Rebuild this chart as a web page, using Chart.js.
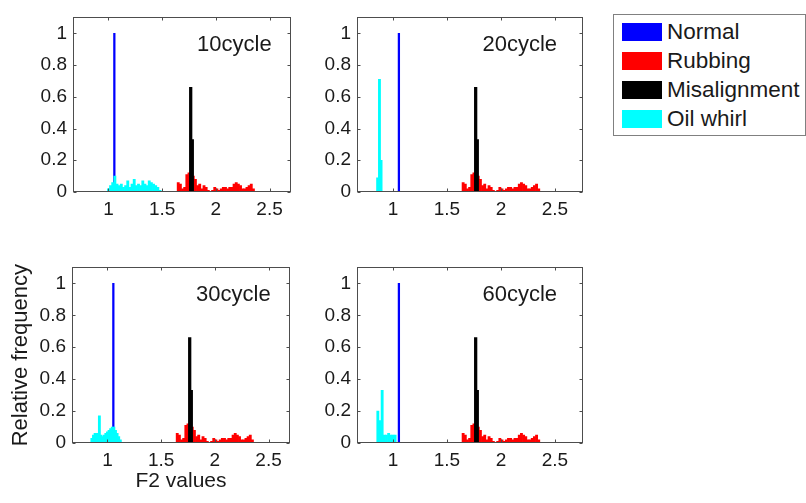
<!DOCTYPE html>
<html>
<head>
<meta charset="utf-8">
<script src="https://cdn.jsdelivr.net/npm/chart.js@4.4.0/dist/chart.umd.min.js"></script>
<style>
  body { margin: 0; background: #fff; width: 806px; height: 503px; position: relative; overflow: hidden;
         font-family: "Liberation Sans", Arial, sans-serif; color: #1a1a1a; }
  canvas { position: absolute; }
  #legend { position: absolute; left: 613px; top: 14px; width: 191px; height: 120px;
            border: 1px solid #808080; background: #fff; }
  #legend .row { position: absolute; left: 8px; height: 18px; display: flex; align-items: center;
                 font-size: 22.5px; line-height: 18px; white-space: nowrap; }
  #legend .sw { display: inline-block; width: 40px; height: 18px; margin-right: 5px; }
</style>
</head>
<body>
<canvas id="c10" width="300" height="225" style="left:0;top:0"></canvas>
<canvas id="c20" width="300" height="225" style="left:300px;top:0"></canvas>
<canvas id="c30" width="300" height="253" style="left:0;top:250px"></canvas>
<canvas id="c60" width="300" height="253" style="left:300px;top:250px"></canvas>

<div id="legend">
  <div class="row" style="top:8px"><span class="sw" style="background:#0000ff"></span>Normal</div>
  <div class="row" style="top:37px"><span class="sw" style="background:#ff0000"></span>Rubbing</div>
  <div class="row" style="top:66px"><span class="sw" style="background:#000000"></span>Misalignment</div>
  <div class="row" style="top:95px"><span class="sw" style="background:#00ffff"></span>Oil whirl</div>
</div>

<script>
// axis ticks
const xTicks = [1, 1.5, 2, 2.5];
const yTicks = [0, 0.2, 0.4, 0.6, 0.8, 1];

// reference classes (same in every panel)
const normalX = [1.055];
const normalY = [1];

const misalignX = [1.766, 1.781];
const misalignY = [0.66, 0.33];

const rubbingX = [1.65, 1.67, 1.69, 1.71, 1.73, 1.75, 1.77, 1.79, 1.81, 1.83, 1.85, 1.87, 1.89, 1.91,
                  1.93, 1.97, 1.99, 2.01, 2.03, 2.05, 2.07, 2.09, 2.11, 2.13, 2.15, 2.17, 2.19, 2.21,
                  2.23, 2.25, 2.27, 2.29, 2.31, 2.33, 2.35];
const rubbingY = [0.06, 0.05, 0.02, 0.03, 0.11, 0.12, 0.12, 0.1, 0.08, 0.04, 0.05, 0.02, 0.04, 0.03,
                  0.01, 0.01, 0.03, 0.02, 0.01, 0.02, 0.03, 0.03, 0.02, 0.03, 0.03, 0.05, 0.06, 0.05,
                  0.04, 0.02, 0.02, 0.03, 0.04, 0.05, 0.02];

// oil whirl after 10, 20, 30 and 60 cycles
const oil10X = [1.00, 1.02, 1.04, 1.06, 1.08, 1.10, 1.12, 1.14, 1.16, 1.18, 1.20, 1.22, 1.24,
                1.26, 1.28, 1.30, 1.32, 1.34, 1.36, 1.38, 1.40, 1.42, 1.44, 1.46, 1.48];
const oil10Y = [0.02, 0.04, 0.06, 0.1, 0.05, 0.04, 0.05, 0.03, 0.04, 0.07, 0.03, 0.05, 0.08,
                0.04, 0.05, 0.04, 0.07, 0.05, 0.04, 0.07, 0.06, 0.05, 0.04, 0.03, 0.01];

const oil20X = [0.858, 0.875, 0.89];
const oil20Y = [0.09, 0.71, 0.2];

const oil30X = [0.855, 0.87, 0.885, 0.9, 0.915, 0.925, 0.94, 0.955, 0.97, 0.985, 1.0,
                1.015, 1.03, 1.045, 1.06, 1.075, 1.09, 1.105, 1.12];
const oil30Y = [0.03, 0.05, 0.06, 0.06, 0.05, 0.17, 0.05, 0.04, 0.05, 0.06, 0.07,
                0.08, 0.09, 0.1, 0.1, 0.08, 0.06, 0.04, 0.02];

const oil60X = [0.86, 0.88, 0.9, 0.92, 0.94, 0.96, 0.98, 1.0, 1.02];
const oil60Y = [0.2, 0.14, 0.33, 0.05, 0.05, 0.06, 0.05, 0.05, 0.05];

const FONT = '"Liberation Sans", Arial, sans-serif';
const INK = '#1a1a1a';

function points(xs, ys) {
    return xs.map((x, i) => ({ x: x, y: ys[i] }));
}

function series(label, xs, ys, color, thickness, order) {
    return {
        label: label,
        data: points(xs, ys),
        backgroundColor: color,
        borderWidth: 0,
        barThickness: thickness,
        grouped: false,
        order: order
    };
}

// box, inward tick marks and the panel caption
const framePlugin = {
    id: 'frame',
    afterDraw(chart, args, opts) {
        const { ctx, chartArea: a } = chart;
        const x = chart.scales.x, y = chart.scales.y;
        const L = Math.round(a.left) + 0.5, R = Math.round(a.right) - 0.5;
        const T = Math.round(a.top) + 0.5, B = Math.round(a.bottom) - 0.5;
        ctx.save();
        ctx.strokeStyle = '#4d4d4d';
        ctx.lineWidth = 1;
        ctx.strokeRect(L, T, R - L, B - T);
        ctx.beginPath();
        xTicks.forEach(v => {
            const px = Math.round(x.getPixelForValue(v)) + 0.5;
            ctx.moveTo(px, B); ctx.lineTo(px, B - 3);
            ctx.moveTo(px, T); ctx.lineTo(px, T + 3);
        });
        yTicks.forEach(v => {
            const py = Math.round(y.getPixelForValue(v)) + 0.5;
            ctx.moveTo(L, py); ctx.lineTo(L + 3, py);
            ctx.moveTo(R, py); ctx.lineTo(R - 3, py);
        });
        ctx.stroke();
        ctx.fillStyle = INK;
        ctx.font = '22px ' + FONT;
        ctx.textAlign = 'right';
        ctx.textBaseline = 'alphabetic';
        ctx.fillText(opts.text, x.getPixelForValue(2.52), y.getPixelForValue(0.89));
        ctx.restore();
    }
};

function makePanel(id, caption, oilX, oilY, box) {
    const tickFont = { family: FONT, size: 19 };
    return new Chart(document.getElementById(id), {
        type: 'bar',
        data: {
            datasets: [
                series('Normal', normalX, normalY, '#0000ff', 1.6, 3),
                series('Rubbing', rubbingX, rubbingY, '#ff0000', 2.2, 2),
                series('Misalignment', misalignX, misalignY, '#000000', 2.6, 1),
                series('Oil whirl', oilX, oilY, '#00ffff', 2.2, 0)
            ]
        },
        options: {
            responsive: false,
            animation: false,
            devicePixelRatio: 1,
            layout: { padding: { top: box.top, right: box.right, left: 0, bottom: 0 } },
            plugins: {
                legend: { display: false },
                tooltip: { enabled: false },
                frame: { text: caption }
            },
            scales: {
                x: {
                    type: 'linear',
                    offset: false,
                    min: box.xMin,
                    max: box.xMax,
                    grid: { display: false, drawTicks: false },
                    border: { display: false },
                    ticks: { font: tickFont, color: INK, padding: 6, maxRotation: 0, callback: v => String(v) },
                    afterBuildTicks: s => { s.ticks = xTicks.map(v => ({ value: v })); },
                    afterFit: s => { s.height = box.xHeight; },
                    title: {
                        display: !!box.xTitle,
                        text: box.xTitle || '',
                        color: INK,
                        font: { family: FONT, size: 21 },
                        padding: { top: 0, bottom: 9 }
                    }
                },
                y: {
                    min: 0,
                    max: 1.1,
                    grid: { display: false, drawTicks: false },
                    border: { display: false },
                    ticks: { font: tickFont, color: INK, padding: 6, callback: v => String(v) },
                    afterBuildTicks: s => { s.ticks = yTicks.map(v => ({ value: v })); },
                    afterFit: s => { s.width = box.yWidth; },
                    title: {
                        display: !!box.yTitle,
                        text: box.yTitle || '',
                        color: INK,
                        font: { family: FONT, size: 22 },
                        padding: { top: 8, bottom: 0 }
                    }
                }
            }
        },
        plugins: [framePlugin]
    });
}

makePanel('c10', '10cycle', oil10X, oil10Y,
    { top: 12, right: 9, yWidth: 73, xHeight: 33, xMin: 0.67, xMax: 2.70 });
makePanel('c20', '20cycle', oil20X, oil20Y,
    { top: 12, right: 17, yWidth: 57, xHeight: 33, xMin: 0.667, xMax: 2.76 });
makePanel('c30', '30cycle', oil30X, oil30Y,
    { top: 14, right: 10, yWidth: 72, xHeight: 60, xMin: 0.67, xMax: 2.70,
      xTitle: 'F2 values', yTitle: 'Relative frequency' });
makePanel('c60', '60cycle', oil60X, oil60Y,
    { top: 14, right: 17, yWidth: 57, xHeight: 60, xMin: 0.667, xMax: 2.76 });
</script>
</body>
</html>
